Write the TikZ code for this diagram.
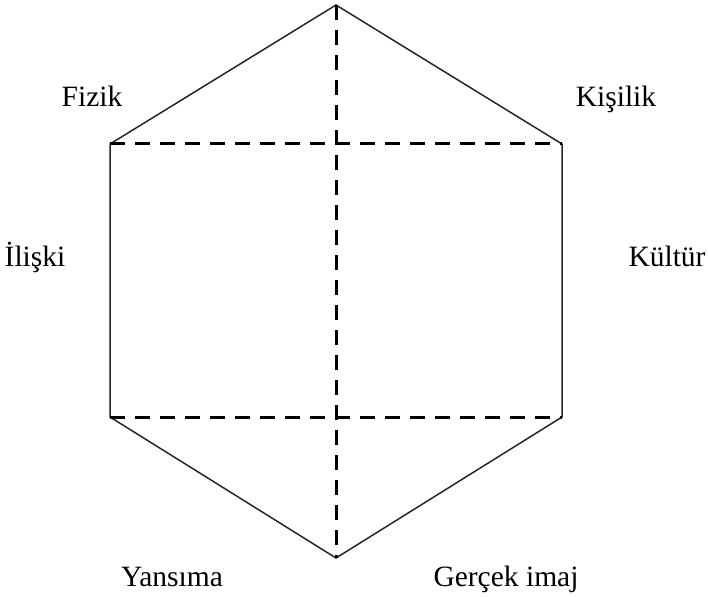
\documentclass[tikz,border=0pt]{standalone}
\usepackage{fontspec}
\setmainfont{Liberation Serif}
\begin{document}
\begin{tikzpicture}[x=1pt,y=-1pt,
  edge/.style={draw=black!85,line width=1.5pt},
  dashline/.style={draw=black,line width=3pt,dash pattern=on 15pt off 10pt},
  lbl/.style={font=\fontsize{29.5}{33}\selectfont,anchor=base,inner sep=0pt}]
\useasboundingbox (0,0) rectangle (708,596);
\coordinate (T) at (336,5);
\coordinate (UL) at (110,144);
\coordinate (UR) at (562,144);
\coordinate (LL) at (110,417);
\coordinate (LR) at (562,417);
\coordinate (B) at (336,558);
\draw[edge] (T) -- (UR) -- (LR) -- (B) -- (LL) -- (UL) -- cycle;
\draw[dashline] (UL) -- (UR);
\draw[dashline] (LL) -- (LR);
\draw[dashline] (T) -- (B);
\node[lbl] (fizik) at (92,107) {Fizik};
\node[lbl] (kisilik) at (616,107) {Kişilik};
\node[lbl] (iliski) at (35,266) {İlişki};
\node[lbl] (kultur) at (667,266) {Kültür};
\node[lbl] (yansima) at (172,586) {Yansıma};
\node[lbl] (gercek) at (506,586) {Gerçek imaj};
\end{tikzpicture}
\end{document}
